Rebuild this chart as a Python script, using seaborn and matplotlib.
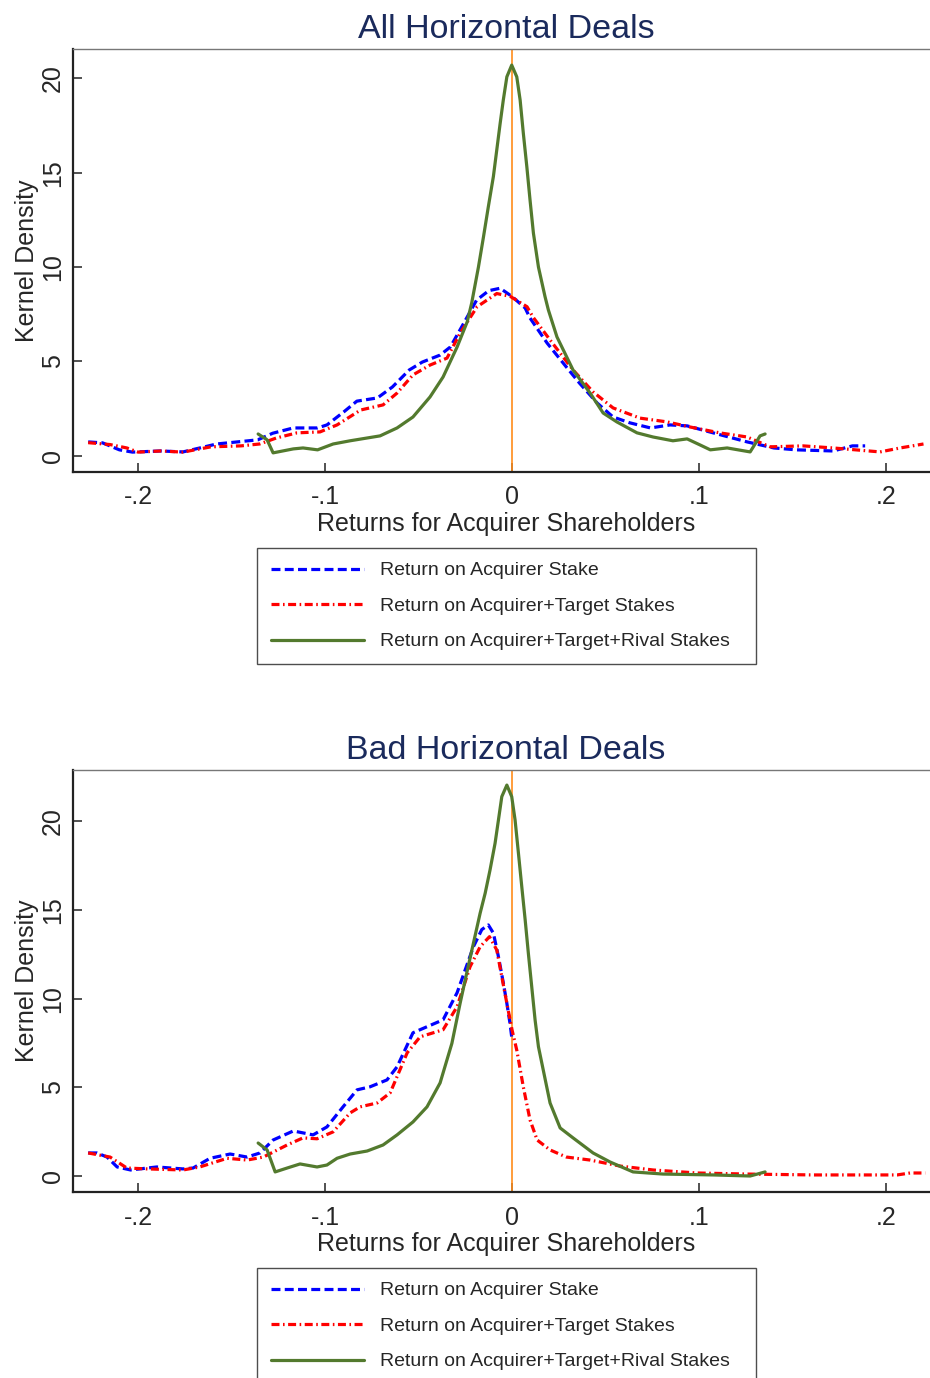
# kernel density comparison, two panels (all deals / bad deals)
import numpy as np
import pandas as pd
import matplotlib
matplotlib.use('Agg')
import matplotlib.pyplot as plt
import seaborn as sns

# ----- data -----
series_names = ['Return on Acquirer Stake',
                'Return on Acquirer+Target Stakes',
                'Return on Acquirer+Target+Rival Stakes']
panel_titles = ['All Horizontal Deals', 'Bad Horizontal Deals']

x_ticks = [-0.2, -0.1, 0, 0.1, 0.2]
x_ticklabels = ['-.2', '-.1', '0', '.1', '.2']
y_ticks = [0, 5, 10, 15, 20]

# top panel
all_acq_x = [-0.2267, -0.219, -0.21, -0.203, -0.188, -0.176, -0.167, -0.158, -0.147, -0.136,
             -0.128, -0.117, -0.104, -0.099, -0.09, -0.083, -0.072, -0.064, -0.055, -0.048,
             -0.0385, -0.033, -0.026, -0.019, -0.0125, -0.0064, 0.0, 0.007, 0.0096, 0.0187,
             0.029, 0.036, 0.0455, 0.054, 0.063, 0.074, 0.0845, 0.0936, 0.1075, 0.1257,
             0.14, 0.152, 0.1717, 0.182, 0.1888]
all_acq_y = [0.74, 0.69, 0.32, 0.2, 0.26, 0.21, 0.42, 0.63, 0.74, 0.85,
             1.2, 1.48, 1.48, 1.64, 2.33, 2.9, 3.07, 3.65, 4.55, 4.97,
             5.34, 5.77, 7.0, 8.25, 8.75, 8.88, 8.44, 7.83, 7.3, 5.98,
             4.71, 3.86, 2.8, 2.06, 1.75, 1.48, 1.64, 1.59, 1.22, 0.74,
             0.42, 0.32, 0.26, 0.53, 0.53]

all_tgt_x = [-0.2267, -0.215, -0.206, -0.2, -0.188, -0.176, -0.161, -0.145, -0.135, -0.126,
             -0.115, -0.1027, -0.0936, -0.081, -0.069, -0.0615, -0.053, -0.0439, -0.0348, -0.0278,
             -0.0187, -0.0082, -0.001, 0.008, 0.0112, 0.0203, 0.0326, 0.0433, 0.054, 0.0684,
             0.0829, 0.0952, 0.111, 0.1257, 0.138, 0.1556, 0.1717, 0.1968, 0.2075, 0.22]
all_tgt_y = [0.7, 0.6, 0.42, 0.2, 0.26, 0.2, 0.48, 0.53, 0.63, 0.95,
             1.22, 1.27, 1.64, 2.43, 2.7, 3.33, 4.29, 4.81, 5.18, 6.5,
             7.9, 8.6, 8.45, 7.9, 7.35, 6.14, 4.55, 3.39, 2.54, 2.0,
             1.8, 1.53, 1.22, 1.0, 0.48, 0.53, 0.42, 0.21, 0.42, 0.63]

all_rival_x = [-0.1358, -0.131, -0.1278, -0.117, -0.1118, -0.104, -0.0957, -0.0866, -0.0706, -0.0615,
               -0.053, -0.0439, -0.0369, -0.0294, -0.024, -0.0216, -0.018, -0.0153, -0.0127, -0.01,
               -0.0082, -0.0064, -0.0047, -0.0028, -0.0002, 0.0025, 0.0043, 0.006, 0.0079, 0.0096,
               0.0114, 0.0141, 0.0176, 0.0194, 0.024, 0.0326, 0.0417, 0.0487, 0.056, 0.0668,
               0.0754, 0.086, 0.0936, 0.1005, 0.106, 0.115, 0.1273, 0.129, 0.1326, 0.1353]
all_rival_y = [1.16, 0.85, 0.16, 0.37, 0.42, 0.32, 0.63, 0.8, 1.06, 1.48,
               2.06, 3.12, 4.18, 5.77, 7.1, 8.1, 10.0, 11.6, 13.2, 14.8,
               16.2, 17.6, 18.85, 20.08, 20.7, 20.08, 18.85, 17.1, 15.3, 13.55,
               11.8, 10.0, 8.44, 7.73, 6.3, 4.55, 3.33, 2.27, 1.8, 1.22,
               1.0, 0.8, 0.9, 0.58, 0.32, 0.42, 0.21, 0.48, 1.06, 1.16]

# bottom panel
bad_acq_x = [-0.2267, -0.222, -0.2166, -0.2112, -0.204, -0.19, -0.176, -0.1706, -0.1615, -0.1508,
             -0.1417, -0.1348, -0.1278, -0.117, -0.1064, -0.099, -0.0904, -0.0829, -0.076, -0.0669,
             -0.0615, -0.053, -0.0455, -0.0369, -0.0294, -0.0207, -0.0162, -0.0127, -0.01, -0.0073,
             -0.0047, -0.0028, -0.0011, 0.0]
bad_acq_y = [1.3, 1.3, 1.07, 0.51, 0.34, 0.51, 0.4, 0.45, 1.0, 1.24,
             1.07, 1.3, 2.03, 2.54, 2.32, 2.77, 3.9, 4.86, 5.03, 5.42,
             6.16, 8.08, 8.42, 8.81, 10.34, 12.93, 13.9, 14.16, 13.7, 12.37,
             10.9, 9.74, 8.6, 7.67]

bad_tgt_x = [-0.2267, -0.215, -0.206, -0.195, -0.176, -0.167, -0.1524, -0.1417, -0.133, -0.1203,
             -0.1118, -0.1043, -0.0957, -0.0866, -0.0813, -0.0722, -0.0652, -0.0561, -0.0492, -0.0369,
             -0.0294, -0.0225, -0.0171, -0.0121, -0.0082, -0.0055, -0.0028, 0.0, 0.0025, 0.006,
             0.0096, 0.0134, 0.0203, 0.029, 0.0417, 0.0578, 0.0754, 0.0989, 0.1257, 0.161,
             0.193, 0.2059, 0.2128, 0.2209]
bad_tgt_y = [1.3, 1.07, 0.45, 0.4, 0.34, 0.51, 1.0, 0.9, 1.07, 1.75,
             2.15, 2.1, 2.49, 3.56, 3.9, 4.12, 4.69, 6.95, 7.85, 8.25,
             9.55, 11.8, 12.93, 13.5, 12.75, 11.24, 9.74, 8.23, 7.1, 5.03,
             3.16, 2.03, 1.47, 1.07, 0.9, 0.56, 0.34, 0.17, 0.11, 0.06,
             0.06, 0.06, 0.17, 0.17]

bad_rival_x = [-0.1358, -0.131, -0.1267, -0.1203, -0.1134, -0.1043, -0.099, -0.0936, -0.0866, -0.0775,
               -0.069, -0.0615, -0.053, -0.0455, -0.0385, -0.0322, -0.0278, -0.0243, -0.0207, -0.0171,
               -0.0144, -0.0118, -0.0091, -0.0073, -0.0055, -0.0028, -0.0002, 0.0016, 0.0034, 0.0052,
               0.007, 0.0087, 0.0105, 0.0123, 0.0141, 0.0203, 0.0257, 0.0326, 0.0433, 0.0524,
               0.0647, 0.0807, 0.1075, 0.1273, 0.1353]
bad_rival_y = [1.86, 1.47, 0.23, 0.45, 0.68, 0.51, 0.62, 1.0, 1.24, 1.41,
               1.75, 2.32, 3.05, 3.9, 5.25, 7.48, 9.74, 11.43, 13.12, 14.82,
               15.95, 17.26, 18.77, 20.08, 21.4, 22.05, 21.4, 20.08, 18.2, 16.3,
               14.44, 12.56, 10.68, 8.8, 7.29, 4.12, 2.71, 2.15, 1.3, 0.79,
               0.23, 0.11, 0.06, 0.0, 0.23]

panels = [
    [(all_acq_x, all_acq_y), (all_tgt_x, all_tgt_y), (all_rival_x, all_rival_y)],
    [(bad_acq_x, bad_acq_y), (bad_tgt_x, bad_tgt_y), (bad_rival_x, bad_rival_y)],
]
ylims = [(-0.83, 21.55), (-0.885, 22.9)]

# ----- styling -----
sns.set_style('ticks')
plt.rcParams['font.family'] = ['Liberation Sans', 'DejaVu Sans']

palette = dict(zip(series_names, ['#0000ff', '#ff0000', '#537a2e']))
dash_map = dict(zip(series_names, [(2.8, 1.35), (2.5, 1.1, 0.5, 1.1), '']))
title_color = '#1a2a5c'

fig = plt.figure(figsize=(9.3, 13.78), dpi=100)
ax_pos = [[0.0785, 0.6578, 0.9312, 0.3066],
          [0.0785, 0.1352, 0.9312, 0.3060]]

for i, curves in enumerate(panels):
    frames = []
    for name, (xs, ys) in zip(series_names, curves):
        frames.append(pd.DataFrame({'ret': xs, 'dens': ys, 'series': name}))
    df = pd.concat(frames, ignore_index=True)

    ax = fig.add_axes(ax_pos[i])
    ax.axvline(0, color='#ff8c1a', lw=1.2, zorder=1)
    sns.lineplot(data=df, x='ret', y='dens', hue='series', style='series',
                 palette=palette, dashes=dash_map, linewidth=2.3,
                 estimator=None, sort=True, ax=ax, zorder=3)

    ax.set_xlim(-0.2348, 0.2283)
    ax.set_ylim(*ylims[i])
    ax.set_xticks(x_ticks)
    ax.set_xticklabels(x_ticklabels)
    ax.set_yticks(y_ticks)
    ax.tick_params(axis='both', direction='in', length=6.5, width=1.1,
                   labelsize=18, color='#222222')
    ax.tick_params(axis='x', pad=10)
    ax.tick_params(axis='y', pad=6)
    for lab in ax.get_yticklabels():
        lab.set_rotation(90)
        lab.set_va('center')

    for side in ['left', 'bottom']:
        ax.spines[side].set_linewidth(1.6)
        ax.spines[side].set_color('#222222')
    ax.spines['top'].set_linewidth(1.0)
    ax.spines['top'].set_color('#777777')
    ax.spines['right'].set_visible(False)

    ax.set_title(panel_titles[i], fontsize=24.5, color=title_color, pad=8)
    ax.set_xlabel('Returns for Acquirer Shareholders', fontsize=18, labelpad=2)
    ax.set_ylabel('Kernel Density', fontsize=18, labelpad=1)

    sns.move_legend(ax, 'upper center', bbox_to_anchor=(0.2125, -0.40, 0.5762, 0.2195),
                    mode='expand', ncol=1, title=None, frameon=True, fancybox=False,
                    fontsize=14, handlelength=4.8, handletextpad=0.82,
                    labelspacing=0.92, borderpad=0.72, borderaxespad=0)
    leg = ax.get_legend()
    leg.get_frame().set_edgecolor('#222222')
    leg.get_frame().set_linewidth(1.0)
    for h in leg.get_lines():
        h.set_linewidth(2.3)

fig.savefig('out.png', dpi=100, facecolor='white')
